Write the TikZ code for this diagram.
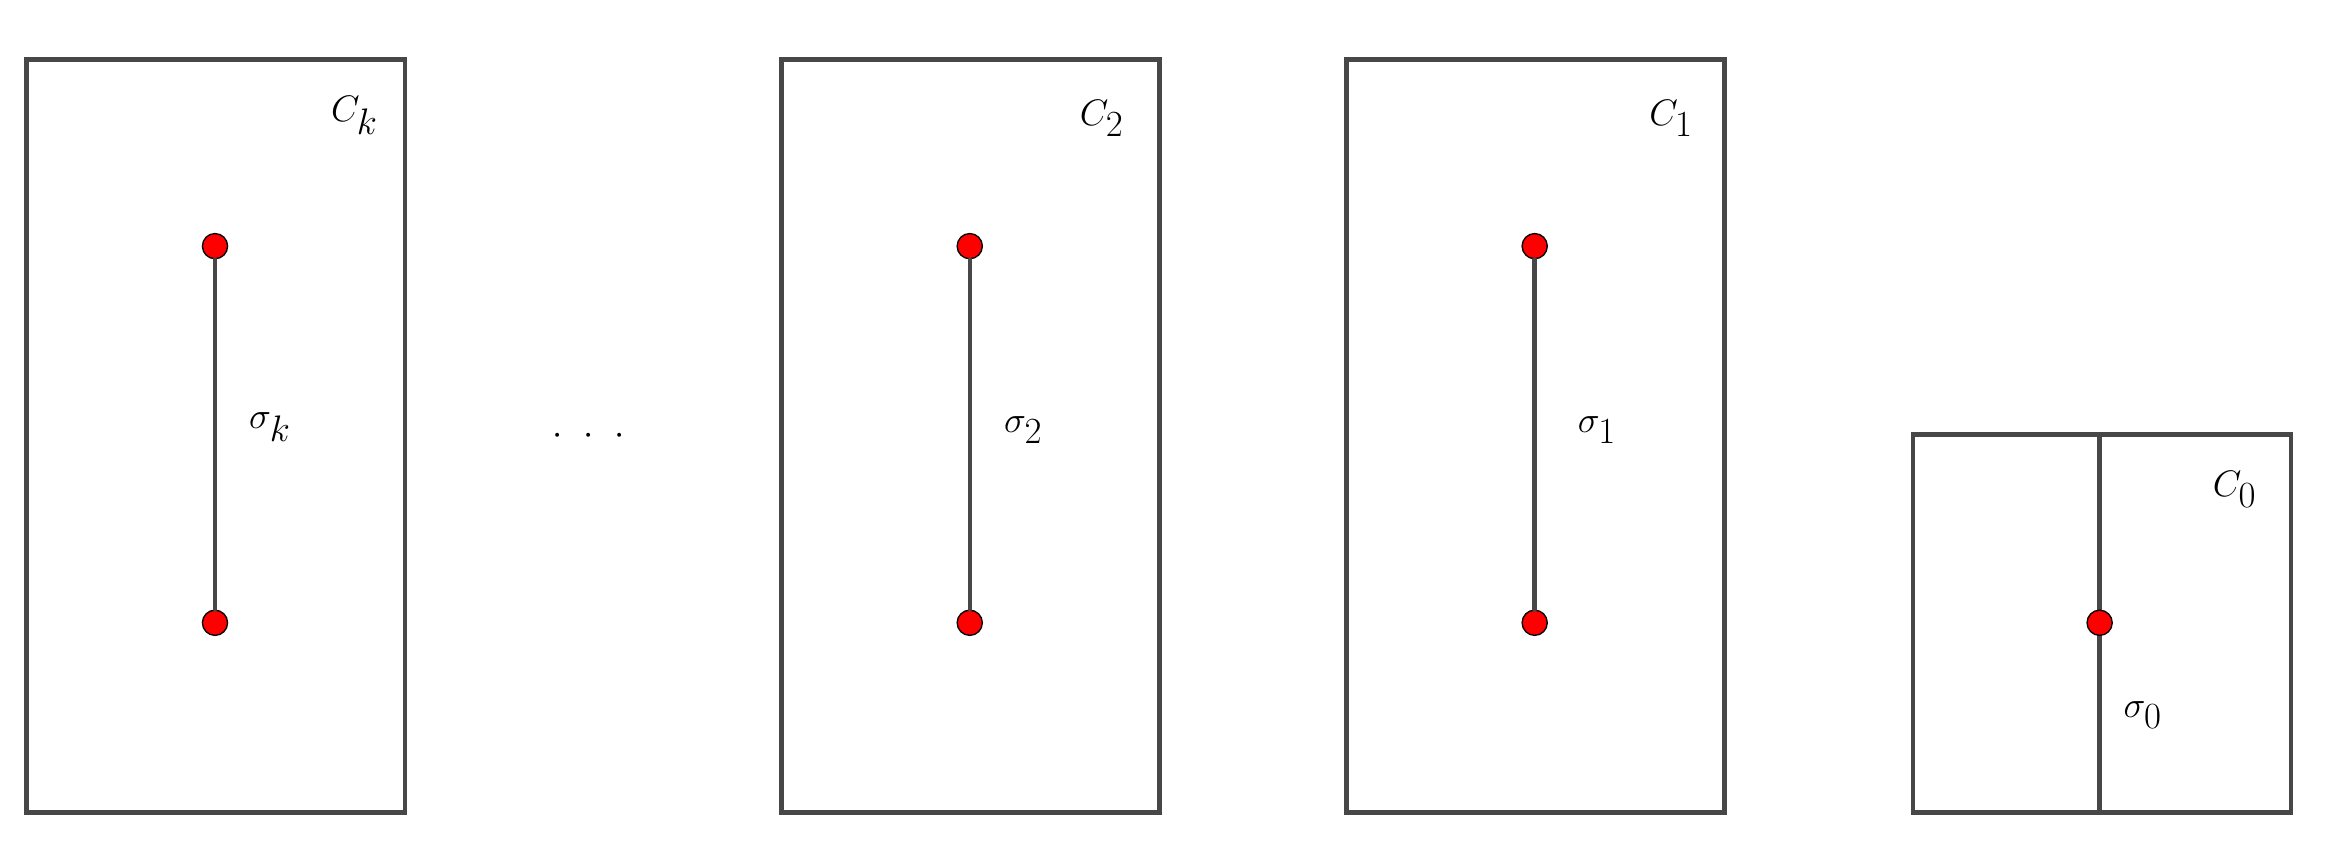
\documentclass[tikz,border=0pt]{standalone}
\usepackage{amsmath}
\begin{document}
\begin{tikzpicture}[x=1pt,y=-1pt,
  edge/.style={draw=black!72,line width=3pt,line cap=round},
  vtx/.style={circle,fill=red,draw=black,line width=0.9pt,minimum size=17pt,inner sep=0pt},
  lab/.style={font=\fontsize{33}{38}\selectfont,inner sep=0pt}]
\useasboundingbox (0,0) rectangle (1568,580);
\foreach \n/\x in {k/18,2/527,1/908}{
  \draw[edge] (\x,40) rectangle (\x+255,548);
}
\draw[edge] (1290,293) rectangle (1545,548);
\coordinate (c0top) at (1416,293);
\coordinate (c0bot) at (1416,548);
\draw[edge] (c0top) -- (c0bot);
\node[vtx] (k1) at (145,166) {}; \node[vtx] (k2) at (145,420) {};
\node[vtx] (a1) at (654,166) {}; \node[vtx] (a2) at (654,420) {};
\node[vtx] (b1) at (1035,166) {}; \node[vtx] (b2) at (1035,420) {};
\draw[edge] (k1) -- (k2);
\draw[edge] (a1) -- (a2);
\draw[edge] (b1) -- (b2);
\node[vtx] (z) at (1416,420) {};
\node[lab] (Ck) at (239,78) {$C_k$};
\node[lab] (C2) at (743,80) {$C_2$};
\node[lab] (C1) at (1127,80) {$C_1$};
\node[lab] (C0) at (1507,330) {$C_0$};
\node[lab] (sk) at (182,288) {$\sigma_k$};
\node[lab] (s2) at (690,290) {$\sigma_2$};
\node[lab] (s1) at (1077,290) {$\sigma_1$};
\node[lab] (s0) at (1445,482) {$\sigma_0$};
\node[lab,anchor=base] (dd) at (397,300) {$\cdot\,\,\cdot\,\,\cdot$};
\end{tikzpicture}
\end{document}
